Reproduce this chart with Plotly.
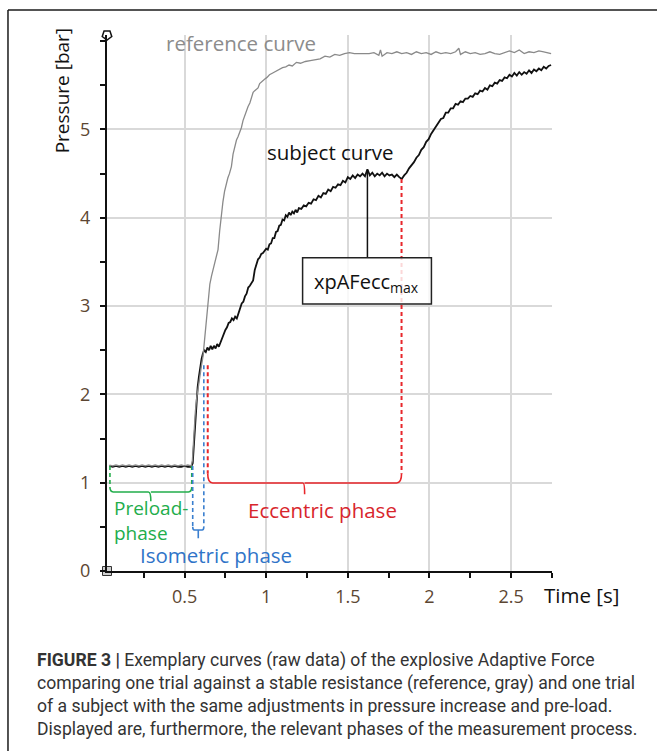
import plotly.graph_objects as go

# ---------------- data ----------------
subj_t = [0.040, 0.060, 0.080, 0.100, 0.120, 0.140, 0.160, 0.180, 0.200, 0.220,
          0.240, 0.260, 0.280, 0.300, 0.320, 0.340, 0.360, 0.380, 0.400, 0.420,
          0.440, 0.460, 0.480, 0.500, 0.520, 0.540, 0.550, 0.558, 0.565, 0.572,
          0.580, 0.588, 0.596, 0.604, 0.612, 0.620, 0.630, 0.640, 0.650, 0.660,
          0.670, 0.680, 0.690, 0.700, 0.710, 0.720, 0.730, 0.740, 0.750, 0.760,
          0.770, 0.780, 0.790, 0.800, 0.810, 0.820, 0.830, 0.840, 0.850, 0.860,
          0.870, 0.880, 0.890, 0.900, 0.910, 0.920, 0.930, 0.940, 0.950, 0.960,
          0.970, 0.980, 0.990, 1.000, 1.010, 1.020, 1.030, 1.040, 1.050, 1.060,
          1.070, 1.080, 1.090, 1.100, 1.110, 1.120, 1.130, 1.140, 1.150, 1.160,
          1.170, 1.180, 1.190, 1.200, 1.215, 1.230, 1.245, 1.260, 1.275, 1.290,
          1.305, 1.320, 1.335, 1.350, 1.365, 1.380, 1.395, 1.410, 1.425, 1.440,
          1.455, 1.470, 1.485, 1.500, 1.515, 1.530, 1.545, 1.560, 1.575, 1.590,
          1.605, 1.620, 1.635, 1.650, 1.665, 1.680, 1.695, 1.710, 1.725, 1.740,
          1.755, 1.770, 1.785, 1.800, 1.815, 1.830, 1.845, 1.860, 1.875, 1.890,
          1.905, 1.920, 1.935, 1.950, 1.965, 1.980, 1.995, 2.010, 2.025, 2.040,
          2.055, 2.070, 2.085, 2.100, 2.115, 2.130, 2.145, 2.160, 2.175, 2.190,
          2.205, 2.220, 2.235, 2.250, 2.265, 2.280, 2.295, 2.310, 2.325, 2.340,
          2.355, 2.370, 2.385, 2.400, 2.415, 2.430, 2.445, 2.460, 2.475, 2.490,
          2.505, 2.520, 2.535, 2.550, 2.565, 2.580, 2.595, 2.610, 2.625, 2.640,
          2.655, 2.670, 2.685, 2.700, 2.715, 2.730, 2.745]
subj_p = [1.19, 1.18, 1.19, 1.18, 1.19, 1.18, 1.19, 1.18, 1.19, 1.18,
          1.19, 1.18, 1.19, 1.18, 1.19, 1.18, 1.19, 1.18, 1.19, 1.18,
          1.19, 1.18, 1.18, 1.19, 1.18, 1.18, 1.22, 1.45, 1.70, 1.92,
          2.08, 2.20, 2.32, 2.40, 2.46, 2.50, 2.48, 2.53, 2.50, 2.55,
          2.51, 2.55, 2.52, 2.57, 2.54, 2.59, 2.64, 2.68, 2.73, 2.76,
          2.81, 2.82, 2.86, 2.84, 2.88, 2.86, 2.91, 2.96, 3.03, 3.05,
          3.11, 3.14, 3.21, 3.23, 3.27, 3.29, 3.41, 3.47, 3.53, 3.55,
          3.59, 3.60, 3.63, 3.65, 3.64, 3.70, 3.71, 3.77, 3.77, 3.84,
          3.85, 3.91, 3.92, 3.98, 3.97, 4.03, 4.01, 4.06, 4.03, 4.07,
          4.05, 4.09, 4.06, 4.11, 4.10, 4.14, 4.13, 4.17, 4.16, 4.21,
          4.20, 4.25, 4.23, 4.28, 4.27, 4.32, 4.30, 4.35, 4.34, 4.38,
          4.37, 4.42, 4.40, 4.46, 4.44, 4.48, 4.45, 4.49, 4.47, 4.50,
          4.47, 4.55, 4.48, 4.51, 4.47, 4.50, 4.48, 4.51, 4.47, 4.50,
          4.48, 4.49, 4.46, 4.49, 4.46, 4.44, 4.48, 4.51, 4.56, 4.59,
          4.63, 4.68, 4.71, 4.77, 4.80, 4.86, 4.89, 4.95, 4.99, 5.04,
          5.07, 5.12, 5.13, 5.19, 5.19, 5.24, 5.24, 5.29, 5.28, 5.32,
          5.31, 5.35, 5.35, 5.38, 5.37, 5.41, 5.40, 5.44, 5.43, 5.47,
          5.45, 5.50, 5.49, 5.53, 5.52, 5.56, 5.55, 5.59, 5.58, 5.62,
          5.60, 5.64, 5.61, 5.65, 5.62, 5.65, 5.63, 5.67, 5.64, 5.68,
          5.66, 5.69, 5.67, 5.71, 5.69, 5.72, 5.73]

ref_t = [0.040, 0.060, 0.080, 0.100, 0.120, 0.140, 0.160, 0.180, 0.200, 0.220,
         0.240, 0.260, 0.280, 0.300, 0.320, 0.340, 0.360, 0.380, 0.400, 0.420,
         0.440, 0.460, 0.480, 0.500, 0.520, 0.540, 0.548, 0.552, 0.560, 0.566,
         0.573, 0.583, 0.593, 0.603, 0.613, 0.620, 0.627, 0.634, 0.644, 0.655,
         0.665, 0.675, 0.690, 0.705, 0.715, 0.726, 0.735, 0.745, 0.755, 0.765,
         0.775, 0.787, 0.797, 0.808, 0.818, 0.828, 0.838, 0.848, 0.858, 0.868,
         0.878, 0.889, 0.900, 0.910, 0.920, 0.930, 0.940, 0.950, 0.960, 0.975,
         0.990, 1.005, 1.020, 1.040, 1.060, 1.080, 1.100, 1.120, 1.140, 1.160,
         1.185, 1.210, 1.240, 1.270, 1.300, 1.330, 1.360, 1.390, 1.420, 1.450,
         1.480, 1.510, 1.540, 1.570, 1.600, 1.630, 1.660, 1.690, 1.700, 1.710,
         1.740, 1.770, 1.800, 1.830, 1.860, 1.890, 1.920, 1.950, 1.980, 2.010,
         2.040, 2.070, 2.100, 2.130, 2.160, 2.180, 2.190, 2.220, 2.250, 2.280,
         2.310, 2.340, 2.370, 2.400, 2.430, 2.460, 2.490, 2.520, 2.550, 2.580,
         2.610, 2.640, 2.670, 2.700, 2.720, 2.745]
ref_p = [1.20, 1.19, 1.20, 1.19, 1.20, 1.19, 1.20, 1.19, 1.20, 1.19,
         1.20, 1.19, 1.20, 1.19, 1.20, 1.19, 1.20, 1.19, 1.20, 1.19,
         1.20, 1.19, 1.20, 1.19, 1.20, 1.19, 1.25, 1.41, 1.62, 1.80,
         1.94, 2.08, 2.20, 2.32, 2.43, 2.58, 2.74, 2.88, 3.10, 3.25,
         3.34, 3.41, 3.54, 3.64, 3.85, 4.05, 4.18, 4.30, 4.38, 4.45,
         4.50, 4.58, 4.72, 4.82, 4.88, 4.92, 4.96, 5.02, 5.10, 5.16,
         5.20, 5.26, 5.30, 5.36, 5.42, 5.44, 5.46, 5.47, 5.52, 5.55,
         5.57, 5.59, 5.62, 5.64, 5.66, 5.68, 5.70, 5.71, 5.73, 5.72,
         5.76, 5.75, 5.77, 5.78, 5.79, 5.80, 5.83, 5.82, 5.85, 5.84,
         5.86, 5.87, 5.86, 5.86, 5.86, 5.86, 5.87, 5.84, 5.90, 5.83,
         5.87, 5.86, 5.88, 5.86, 5.87, 5.85, 5.88, 5.86, 5.87, 5.85,
         5.88, 5.86, 5.87, 5.86, 5.88, 5.92, 5.85, 5.88, 5.86, 5.87,
         5.85, 5.86, 5.88, 5.86, 5.85, 5.87, 5.89, 5.87, 5.90, 5.86,
         5.88, 5.87, 5.89, 5.88, 5.87, 5.86]

x_tick_vals = [0.5, 1, 1.5, 2, 2.5]
x_tick_text = ["0.5", "1", "1.5", "2", "2.5"]
y_tick_vals = [0, 1, 2, 3, 4, 5]
y_tick_text = ["0", "1", "2", "3", "4", "5"]

x_range = [0.025, 2.7505]
y_range = [0, 6.07]

# phase boundaries (s) and pressure levels (bar)
preload_start, preload_end = 0.043, 0.544
iso_start, iso_end = 0.550, 0.618
ecc_start, ecc_end = 0.642, 1.829
xpafecc_t, xpafecc_p = 1.62, 4.54

# ---------------- figure ----------------
GREEN = "#22ad4b"
BLUE = "#3a7fcf"
RED = "#e8262b"
FONT = "Open Sans, Noto Sans, sans-serif"

fig = go.Figure()

fig.add_trace(go.Scatter(x=subj_t, y=subj_p, mode="lines",
                         line=dict(color="#111111", width=1.8), hoverinfo="skip"))
fig.add_trace(go.Scatter(x=ref_t, y=ref_p, mode="lines",
                         line=dict(color="#8a8a8a", width=1.3), hoverinfo="skip"))

shapes = []
def vline(x, y0, y1, color, width=1.6, dash="4px,3px"):
    shapes.append(dict(type="line", xref="x", yref="y", x0=x, x1=x, y0=y0, y1=y1,
                       line=dict(color=color, width=width, dash=dash), layer="above"))

# preload bracket (green)
vline(preload_start, 1.19, 0.95, GREEN)
vline(preload_end, 1.19, 0.95, GREEN)
mid = (preload_start + preload_end) / 2
shapes.append(dict(type="path", xref="x", yref="y",
                   path=f"M {preload_start},0.95 Q {preload_start},0.895 {preload_start+0.02},0.895 "
                        f"L {mid-0.015},0.895 Q {mid},0.895 {mid},0.79 "
                        f"M {mid},0.895 Q {mid},0.895 {mid+0.015},0.895 "
                        f"L {preload_end-0.02},0.895 Q {preload_end},0.895 {preload_end},0.95",
                   line=dict(color=GREEN, width=1.6), layer="above"))

# isometric bracket (blue)
vline(iso_start, 1.19, 0.50, BLUE)
vline(iso_end, 2.33, 0.50, BLUE)
mid = (iso_start + iso_end) / 2
shapes.append(dict(type="path", xref="x", yref="y",
                   path=f"M {iso_start},0.50 Q {iso_start},0.465 {iso_start+0.01},0.465 "
                        f"L {mid},0.465 L {mid},0.37 M {mid},0.465 "
                        f"L {iso_end-0.01},0.465 Q {iso_end},0.465 {iso_end},0.50",
                   line=dict(color=BLUE, width=1.6), layer="above"))

# eccentric bracket (red)
vline(ecc_start, 2.33, 1.10, RED, width=2)
vline(ecc_end, 4.44, 1.10, RED, width=2)
mid = (ecc_start + ecc_end) / 2
shapes.append(dict(type="path", xref="x", yref="y",
                   path=f"M {ecc_start},1.10 Q {ecc_start},0.997 {ecc_start+0.03},0.997 "
                        f"L {mid-0.01},0.997 Q {mid},0.997 {mid},0.87 "
                        f"M {mid},0.997 L {ecc_end-0.03},0.997 Q {ecc_end},0.997 {ecc_end},1.10",
                   line=dict(color=RED, width=1.6), layer="above"))

# xpAFecc_max box + connector
shapes.append(dict(type="line", xref="x", yref="y", x0=xpafecc_t, x1=xpafecc_t,
                   y0=3.547, y1=xpafecc_p, line=dict(color="#111111", width=1.5), layer="above"))
shapes.append(dict(type="rect", xref="x", yref="y", x0=1.223, x1=2.012, y0=3.025, y1=3.547,
                   fillcolor="rgba(255,255,255,0.82)", line=dict(color="#222222", width=1.5),
                   layer="above"))

# frame of the figure panel
shapes.append(dict(type="line", xref="paper", yref="paper", x0=-0.2225, x1=1.25,
                   y0=1.0466, y1=1.0466, line=dict(color="#1a1a1a", width=1.5)))
shapes.append(dict(type="line", xref="paper", yref="paper", x0=-0.2225, x1=-0.2225,
                   y0=1.0466, y1=-0.35, line=dict(color="#1a1a1a", width=1.5)))

annotations = [
    dict(x=0.844, y=5.98, xref="x", yref="y", text="reference curve", showarrow=False,
         xanchor="center", yanchor="middle",
         font=dict(family=FONT, size=20.5, color="#8c8c8c")),
    dict(x=1.394, y=4.75, xref="x", yref="y", text="subject curve", showarrow=False,
         xanchor="center", yanchor="middle",
         font=dict(family=FONT, size=20.5, color="#111111")),
    dict(x=1.617, y=3.27, xref="x", yref="y", text="xpAFecc<sub>max</sub>", showarrow=False,
         xanchor="center", yanchor="middle",
         font=dict(family=FONT, size=20, color="#111111")),
    dict(x=0.058, y=0.567, xref="x", yref="y", text="Preload-<br>phase", showarrow=False,
         xanchor="left", yanchor="middle", align="left",
         font=dict(family=FONT, size=19, color=GREEN)),
    dict(x=0.691, y=0.18, xref="x", yref="y", text="Isometric phase", showarrow=False,
         xanchor="center", yanchor="middle",
         font=dict(family=FONT, size=20.5, color="#2f74c8")),
    dict(x=1.342, y=0.69, xref="x", yref="y", text="Eccentric phase", showarrow=False,
         xanchor="center", yanchor="middle",
         font=dict(family=FONT, size=20.5, color="#d8262c")),
    dict(x=-0.101, y=0.895, xref="paper", yref="paper", text="Pressure [bar]", showarrow=False,
         xanchor="center", yanchor="middle", textangle=-90,
         font=dict(family=FONT, size=19, color="#111111")),
    dict(x=0.9775, y=-0.0448, xref="paper", yref="paper", text="Time [s]", showarrow=False,
         xanchor="left", yanchor="middle", font=dict(family=FONT, size=20.5, color="#111111")),
    dict(x=-0.1618, y=-0.2295, xref="paper", yref="paper", xanchor="left", yanchor="middle",
         align="left", showarrow=False,
         text="<b>FIGURE 3 |</b> Exemplary curves (raw data) of the explosive Adaptive Force<br>"
              "comparing one trial against a stable resistance (reference, gray) and one trial<br>"
              "of a subject with the same adjustments in pressure increase and pre-load.<br>"
              "Displayed are, furthermore, the relevant phases of the measurement process.",
         font=dict(family="Roboto, sans-serif", size=17.6, color="#333333")),
]

# axis-end decorations
fig.add_trace(go.Scatter(x=[x_range[0]], y=[y_range[1]], mode="markers", cliponaxis=False,
                         marker=dict(symbol="pentagon", angle=180, size=10, color="white",
                                     line=dict(color="#111111", width=1.5)), hoverinfo="skip"))
fig.add_trace(go.Scatter(x=[x_range[0]], y=[y_range[0]], mode="markers", cliponaxis=False,
                         marker=dict(symbol="square", size=9, color="#cfcfcf",
                                     line=dict(color="#333333", width=1)), hoverinfo="skip"))

TICKCOL = "#5c4632"
fig.update_layout(
    width=657, height=751, showlegend=False,
    paper_bgcolor="white", plot_bgcolor="white",
    margin=dict(l=107, r=105, t=35, b=180),
    shapes=shapes, annotations=annotations,
    xaxis=dict(range=x_range, tickvals=x_tick_vals, ticktext=x_tick_text,
               showgrid=True, gridcolor="#d9d9d9", gridwidth=1.5, zeroline=False,
               showline=True, linecolor="#111111", linewidth=2,
               ticks="outside", ticklen=5, tickwidth=1.5, tickcolor="#111111",
               ticklabelstandoff=3,
               minor=dict(dtick=0.25, tick0=0, ticks="outside", ticklen=5, tickwidth=1.5,
                          tickcolor="#111111", showgrid=False),
               tickfont=dict(family=FONT, size=18, color=TICKCOL)),
    yaxis=dict(range=y_range, tickvals=y_tick_vals, ticktext=y_tick_text,
               showgrid=True, gridcolor="#d9d9d9", gridwidth=1.5, zeroline=False,
               showline=True, linecolor="#111111", linewidth=2,
               ticks="outside", ticklen=5, tickwidth=1.5, tickcolor="#111111",
               ticklabelstandoff=6,
               minor=dict(dtick=0.5, tick0=0, ticks="outside", ticklen=5, tickwidth=1.5,
                          tickcolor="#111111", showgrid=False),
               tickfont=dict(family=FONT, size=18, color=TICKCOL)),
)

fig.write_html("out.html", config={"displayModeBar": False},
               post_script="document.body.style.margin='0px';")
